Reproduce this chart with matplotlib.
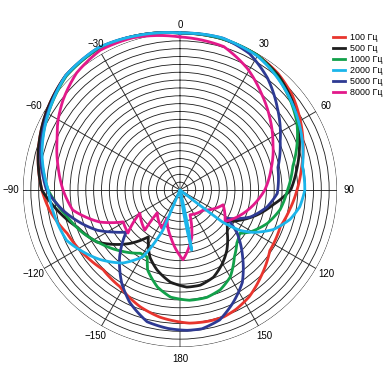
import numpy as np
import matplotlib

matplotlib.use("Agg")
import matplotlib.pyplot as plt

plt.rcParams["font.family"] = ["Liberation Sans", "DejaVu Sans"]

labels = ["100 Гц", "500 Гц", "1000 Гц", "2000 Гц", "5000 Гц", "8000 Гц"]
colors = ["#e8352e", "#1e1e1e", "#12a04a", "#1bb5ea", "#2e3a93", "#e2198a"]

# angle in degrees clockwise from the top, radius in rings (20 = outer ring)
ang_100 = [0, 15, 30, 40, 50, 60, 70, 80, 90, 100, 110, 124, 137, 147, 155, 161, 168, 176,
           189, 199, 212, 224, 234, 249, 261, 270, 285, 300, 315, 330, 345, 360]
r_100 = [20.0, 20.0, 19.8, 19.4, 18.7, 17.7, 16.7, 15.7, 14.9, 14.2, 13.6, 13.8, 15.1, 16.2,
         16.8, 17.1, 17.1, 17.0, 16.4, 15.7, 14.5, 14.1, 14.6, 15.4, 16.8, 17.6, 18.7, 19.7,
         20.6, 20.8, 20.4, 20.0]

ang_500 = [0, 15, 30, 41, 51, 60, 70, 80, 90, 99, 108, 117, 124, 132, 142, 150, 159, 168, 176,
           186, 196, 204, 214, 223, 231, 238, 250, 261, 270, 285, 300, 315, 330, 345, 360]
r_500 = [20.0, 20.0, 19.8, 19.2, 18.3, 17.3, 16.2, 15.1, 14.1, 12.0, 10.3, 8.5, 7.2, 8.1, 9.7,
         10.8, 11.9, 12.4, 12.4, 11.8, 10.6, 9.4, 7.2, 9.3, 11.0, 12.5, 13.9, 15.9, 17.6, 18.7,
         19.7, 20.6, 20.8, 20.4, 20.0]

ang_1000 = [0, 15, 30, 41, 51, 60, 68, 78, 90, 101, 111, 121, 126, 133, 141, 150, 158, 166, 175,
            185, 193, 202, 206, 212, 223, 236, 246, 257, 270, 285, 300, 315, 330, 345, 360]
r_1000 = [20.0, 20.0, 19.8, 19.0, 18.1, 17.2, 16.1, 14.7, 13.7, 13.0, 11.9, 10.4, 9.4, 9.9,
          11.0, 12.8, 13.7, 14.1, 14.1, 13.7, 12.7, 11.0, 9.5, 9.5, 10.7, 12.2, 13.5, 14.8,
          16.8, 18.3, 19.4, 20.5, 20.8, 20.4, 20.0]

ang_2000 = [0, 15, 30, 36, 48, 58, 68, 79, 90, 98, 105, 113, 120, 124, 127, 128, 166, 169, 172,
            203, 203, 209, 218, 229, 246, 270, 285, 300, 315, 330, 345, 360]
r_2000 = [20.0, 20.1, 19.7, 19.3, 18.4, 17.6, 16.8, 15.9, 15.9, 15.4, 14.5, 12.9, 10.8, 9.2,
          6.8, 0.0, 0.0, 7.8, 0.0, 0.0, 5.5, 9.7, 11.8, 13.5, 15.8, 16.8, 18.2, 19.4, 20.6,
          20.9, 20.4, 20.0]

ang_5000 = [0, 16, 27, 38, 50, 64, 77, 92, 101, 111, 121, 127, 137, 146, 155, 163, 171, 177,
            185, 194, 204, 212, 222, 232, 238, 244, 252, 260, 270, 285, 300, 315, 330, 345, 360]
r_5000 = [20.0, 20.1, 19.5, 18.1, 16.2, 14.2, 12.8, 12.4, 11.3, 9.6, 7.0, 9.1, 11.7, 14.2,
          15.9, 17.3, 17.9, 17.9, 17.7, 17.3, 15.7, 14.0, 11.5, 8.7, 10.1, 11.7, 13.4, 15.1,
          17.0, 18.4, 19.5, 20.6, 20.9, 20.4, 20.0]

ang_8000 = [0, 17, 29, 40, 51, 62, 76, 90, 125, 109, 131, 158, 166, 177.5, 190.6, 204.9, 205.3,
            225, 221.2, 240, 230.4, 240.7, 248.2, 259.4, 270, 280.7, 292.1, 299.8, 307.6,
            318.6, 330.3, 342.8, 360]
r_8000 = [19.5, 19.1, 17.7, 16.1, 14.7, 13.4, 12.0, 10.8, 7.0, 5.8, 3.9, 3.4, 6.2, 8.9, 6.2,
          3.9, 5.4, 4.1, 6.8, 5.9, 8.6, 8.3, 11.0, 13.9, 14.9, 15.8, 16.9, 17.9, 18.8, 19.9,
          20.5, 20.3, 19.5]

tick_angles = list(range(0, 360, 30))
tick_labels = ["0", "30", "60", "90", "120", "150", "180",
               "\u2212150", "\u2212120", "\u221290", "\u221260", "\u221230"]
rings = list(range(1, 21))

series = [
    (ang_100, r_100, 0),
    (ang_500, r_500, 1),
    (ang_1000, r_1000, 2),
    (ang_5000, r_5000, 4),
    (ang_8000, r_8000, 5),
    (ang_2000, r_2000, 3),
]

fig = plt.figure(figsize=(3.92, 3.92), dpi=100)
ax = fig.add_axes([23 / 392, 45 / 392, 314 / 392, 314 / 392], projection="polar")
ax.set_theta_zero_location("N")
ax.set_theta_direction(-1)
ax.set_ylim(0, 20)
ax.spines["polar"].set_visible(False)

ax.set_rgrids(rings, labels=[""] * len(rings))
ax.set_thetagrids(tick_angles, labels=[""] * len(tick_angles))
ax.yaxis.grid(True, color="#1a1a1a", linewidth=0.6)
ax.xaxis.grid(True, color="#333333", linewidth=0.7)
for i, line in enumerate(ax.xaxis.get_gridlines()):
    if i in (0, 6):
        line.set_color("#9a9a9a")
        line.set_linewidth(1.2)

for a, t in zip(tick_angles, tick_labels):
    rad = 21.0 if a == 0 else 21.5
    ax.text(np.deg2rad(a), rad, t, ha="center", va="center", fontsize=7, clip_on=False)

handles = [None] * len(labels)
for ang, r, k in series:
    (ln,) = ax.plot(np.deg2rad(ang), r, color=colors[k], linewidth=2.0, label=labels[k],
                    clip_on=False, solid_joinstyle="round")
    # follow the polar grid between the read points instead of drawing chords
    ln.get_path()._interpolation_steps = 24
    handles[k] = ln

fig.legend(handles, labels, loc="upper left", bbox_to_anchor=(333 / 392, 1 - 33 / 392),
           frameon=False, fontsize=6.4, handlelength=1.4, handletextpad=0.5,
           labelspacing=0.22, borderaxespad=0, borderpad=0)

fig.savefig("out.png", dpi=100)
plt.close(fig)
